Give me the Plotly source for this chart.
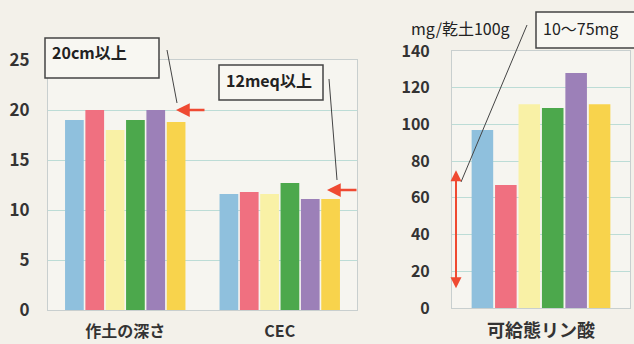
import plotly.graph_objects as go

# Soil survey results for six fields
series_names = ["No.1", "No.2", "No.3", "No.4", "No.5", "No.6"]
series_colors = ["#8fc0dd", "#f07080", "#f9f1a6", "#4ca84c", "#9c80b8", "#f8d34c"]

left_categories = ["作土の深さ", "CEC"]
depth_values = [19.0, 20.0, 18.0, 19.0, 20.0, 18.8]   # cm
cec_values = [11.6, 11.8, 11.6, 12.7, 11.1, 11.1]     # meq

right_categories = ["可給態リン酸"]
phosphate_values = [97, 67, 111, 109, 128, 111]       # mg/乾土100g

left_ticks = [0, 5, 10, 15, 20, 25]
right_ticks = [0, 20, 40, 60, 80, 100, 120, 140]

depth_target = 20
cec_target = 12
phosphate_range = [10, 75]

W, H = 634, 344


def px(x):
    return x / W


def py(y):
    return 1 - y / H


FONT = "Noto Sans CJK JP"
TXT = "#333333"
GRID = "#bcdcd6"
FRAME = "#c8cfcf"

fig = go.Figure()

for i, name in enumerate(series_names):
    fig.add_trace(go.Bar(
        x=left_categories, y=[depth_values[i], cec_values[i]],
        name=name, marker=dict(color=series_colors[i], line=dict(width=0)),
        xaxis="x", yaxis="y", showlegend=False, hoverinfo="y",
    ))
for i, name in enumerate(series_names):
    fig.add_trace(go.Bar(
        x=right_categories, y=[phosphate_values[i]],
        name=name, marker=dict(color=series_colors[i], line=dict(width=0)),
        xaxis="x2", yaxis="y2", showlegend=False, hoverinfo="y",
    ))

axis_common = dict(showline=True, mirror=True, linecolor=FRAME, linewidth=1,
                   zeroline=False, ticks="", automargin=False)

fig.update_layout(
    width=W, height=H,
    margin=dict(l=0, r=0, t=0, b=0, autoexpand=False),
    paper_bgcolor="#f3f1ea",
    plot_bgcolor="#f6f5f0",
    barmode="group",
    bargap=0.21,
    bargroupgap=0.08,
    font=dict(family=FONT, color=TXT),
    xaxis=dict(domain=[px(48), px(357)], anchor="y", showgrid=False,
               tickfont=dict(size=16, color=TXT, family=FONT, weight="bold"),
               ticklabelstandoff=7, **axis_common),
    yaxis=dict(domain=[py(310), py(60)], anchor="x", range=[0, 25],
               tickvals=left_ticks, showgrid=True, gridcolor=GRID, gridwidth=1,
               tickfont=dict(size=17, color=TXT, family=FONT, weight="bold"),
               ticklabelstandoff=14, **axis_common),
    xaxis2=dict(domain=[px(452), px(630)], anchor="y2", showgrid=False,
                tickfont=dict(size=18, color=TXT, family=FONT, weight="bold"),
                ticklabelstandoff=6, **axis_common),
    yaxis2=dict(domain=[py(308), py(51)], anchor="x2", range=[0, 140],
                tickvals=right_ticks, showgrid=True, gridcolor=GRID, gridwidth=1,
                tickfont=dict(size=16, color=TXT, family=FONT, weight="bold"),
                ticklabelstandoff=18, **axis_common),
)

box_line = dict(color="#444444", width=1.5)
shapes = [
    # callout boxes
    dict(type="rect", xref="paper", yref="paper", x0=px(45), x1=px(159),
         y0=py(78), y1=py(38), line=box_line, fillcolor="#f8f7f2", layer="above"),
    dict(type="rect", xref="paper", yref="paper", x0=px(219), x1=px(323),
         y0=py(100), y1=py(65), line=box_line, fillcolor="#f8f7f2", layer="above"),
    dict(type="rect", xref="paper", yref="paper", x0=px(536), x1=px(650),
         y0=py(48), y1=py(12), line=box_line, fillcolor="#f8f7f2", layer="above"),
    # leader lines
    dict(type="line", xref="paper", yref="paper", x0=px(167), y0=py(50),
         x1=px(177), y1=py(103), line=dict(color="#444444", width=1)),
    dict(type="line", xref="paper", yref="paper", x0=px(329), y0=py(79),
         x1=px(337), y1=py(180), line=dict(color="#444444", width=1)),
    dict(type="line", xref="paper", yref="paper", x0=px(527), y0=py(25),
         x1=px(461), y1=py(182), line=dict(color="#444444", width=1)),
]
fig.update_layout(shapes=shapes)

RED = "#ef4a32"
annotations = [
    dict(text="20cm以上", xref="paper", yref="paper", x=px(50), y=py(52),
         xanchor="left", yanchor="middle", showarrow=False,
         font=dict(size=16, color="#222222", family=FONT, weight="bold")),
    dict(text="12meq以上", xref="paper", yref="paper", x=px(224), y=py(80),
         xanchor="left", yanchor="middle", showarrow=False,
         font=dict(size=16, color="#222222", family=FONT, weight="bold")),
    dict(text="10～75mg", xref="paper", yref="paper", x=px(541), y=py(28),
         xanchor="left", yanchor="middle", showarrow=False,
         font=dict(size=16, color="#222222", family=FONT)),
    dict(text="mg/乾土100g", xref="paper", yref="paper", x=px(460), y=py(28),
         xanchor="center", yanchor="middle", showarrow=False,
         font=dict(size=16, color="#222222", family=FONT)),
    # target marker arrows
    dict(text="", xref="paper", yref="y", x=px(176), y=depth_target,
         ax=30, ay=0, showarrow=True, arrowhead=2, arrowsize=1.1,
         arrowwidth=2.5, arrowcolor=RED),
    dict(text="", xref="paper", yref="y", x=px(327), y=cec_target,
         ax=31, ay=0, showarrow=True, arrowhead=2, arrowsize=1.1,
         arrowwidth=2.5, arrowcolor=RED),
    dict(text="", xref="paper", yref="y2", x=px(456), y=phosphate_range[1],
         axref="pixel", ayref="y2", ax=0, ay=phosphate_range[0],
         showarrow=True, arrowhead=2, startarrowhead=2, arrowside="end+start",
         arrowsize=1.1, startarrowsize=1.1, arrowwidth=2, arrowcolor=RED),
]
fig.update_layout(annotations=annotations)

fig.write_html("out.html")
